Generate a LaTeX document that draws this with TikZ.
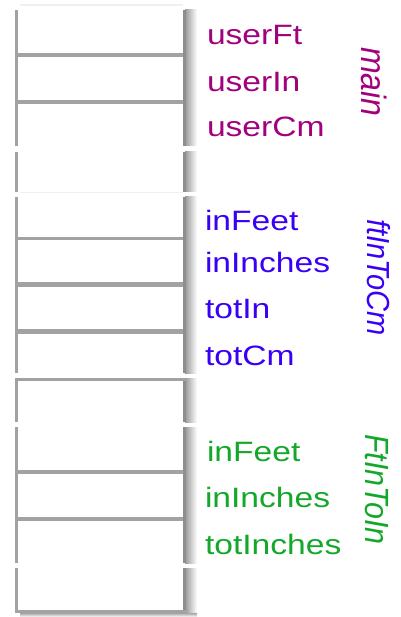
\documentclass[tikz,border=0pt]{standalone}
\usepackage{graphicx}
\usepackage{fontspec}
\setmainfont{Liberation Sans}
\definecolor{cmain}{HTML}{A2007C}
\definecolor{cblue}{HTML}{3A00F5}
\definecolor{cgreen}{HTML}{14A82A}
\definecolor{bord}{HTML}{A2A2A2}
\definecolor{rbord}{HTML}{8E8E8E}
\begin{document}
\begin{tikzpicture}[x=1pt,y=-1pt,
  lbl/.style={anchor=base west, inner sep=0pt, outer sep=0pt, font=\fontsize{28}{28}\selectfont},
  vlbl/.style={anchor=center, inner sep=0pt, outer sep=0pt},
  faint/.style={draw=gray!12, line width=1.2pt}]
\useasboundingbox (0,0) rectangle (400,617);
\fill[white] (0,0) rectangle (400,617);
% memory groups: y1, y2
\foreach \ya/\yb in {10/146, 152/192, 197/373, 378/422, 427/563, 568/613}{
  \shade[left color=rbord!90, right color=white] (185,\ya) rectangle (197,\yb);
  \fill[bord] (15,\ya) rectangle (18,\yb);
  \fill[rbord] (183,\ya) rectangle (186,\yb);
}
% separators
\foreach \ya/\yb in {53.5/57.5, 100/104, 237/240, 281.5/286.5, 328.5/333.5, 469.5/473.5, 516.5/520.5}{
  \fill[bord] (18,\ya) rectangle (183,\yb);
}
% top border of lone cell
\fill[bord] (15,378) rectangle (186,381);
% bottom border with shadow
\shade[top color=rbord!80, bottom color=white] (20,613) rectangle (197,617);
\fill[bord] (15,609.5) rectangle (186,613);
% faint lines
\draw[faint] (20,5) -- (183,5);
\draw[faint] (20,192.5) -- (183,192.5);
% labels
\node[lbl, text=cmain] (uft) at (207,45) {\scalebox{1.2}[1]{userFt}};
\node[lbl, text=cmain] (uin) at (207,92) {\scalebox{1.2}[1]{userIn}};
\node[lbl, text=cmain] (ucm) at (207,137) {\scalebox{1.2}[1]{userCm}};
\node[vlbl, text=cmain] (fmain) at (374,82) {\fontsize{32}{32}\selectfont\itshape\scalebox{1.1}[1]{\rotatebox{-90}{main}}};
\node[lbl, text=cblue] (bft) at (205,230) {\scalebox{1.2}[1]{inFeet}};
\node[lbl, text=cblue] (bin) at (205,272) {\scalebox{1.2}[1]{inInches}};
\node[lbl, text=cblue] (btin) at (205,318) {\scalebox{1.2}[1]{totIn}};
\node[lbl, text=cblue] (btcm) at (205,365) {\scalebox{1.2}[1]{totCm}};
\node[vlbl, text=cblue] (fcm) at (378.5,277.5) {\fontsize{29}{29}\selectfont\itshape\scalebox{1.1}[1]{\rotatebox{-90}{ftInToCm}}};
\node[lbl, text=cgreen] (gft) at (207,461) {\scalebox{1.2}[1]{inFeet}};
\node[lbl, text=cgreen] (gin) at (205,507) {\scalebox{1.2}[1]{inInches}};
\node[lbl, text=cgreen] (gtin) at (205,554) {\scalebox{1.2}[1]{totInches}};
\node[vlbl, text=cgreen] (fin) at (377,489.5) {\fontsize{30.5}{30.5}\selectfont\itshape\scalebox{1.1}[1]{\rotatebox{-90}{FtInToIn}}};
\end{tikzpicture}
\end{document}
